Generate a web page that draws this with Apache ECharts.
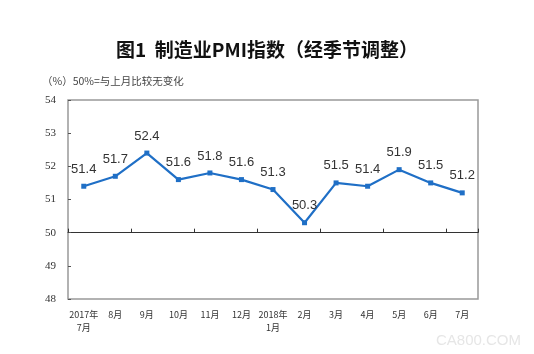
<!DOCTYPE html>
<html>
<head>
<meta charset="utf-8">
<script src="https://cdn.jsdelivr.net/npm/echarts@6/dist/echarts.min.js"></script>
<style>
  html, body { margin: 0; padding: 0; background: #fff; }
  #pmiChart { width: 534px; height: 354px; }
</style>
</head>
<body>
<div id="pmiChart"></div>
<script>
// 月份（x轴）
const months = ['2017年\n7月', '8月', '9月', '10月', '11月', '12月', '2018年\n1月', '2月', '3月', '4月', '5月', '6月', '7月'];
// 制造业PMI（经季节调整）
const pmiValues = [51.4, 51.7, 52.4, 51.6, 51.8, 51.6, 51.3, 50.3, 51.5, 51.4, 51.9, 51.5, 51.2];
// y轴刻度
const yTicks = [48, 49, 50, 51, 52, 53, 54];

const chart = echarts.init(document.getElementById('pmiChart'));

// 50 分界线离底部的距离：(50 - 48) 个单位
const plotHeight = 199;
const lineOffset = -plotHeight * (50 - yTicks[0]) / (yTicks[yTicks.length - 1] - yTicks[0]);

const option = {
  backgroundColor: '#fff',
  animation: false,
  title: {
    text: '图1  制造业PMI指数（经季节调整）',
    left: 'center',
    top: 35,
    textStyle: {
      fontFamily: 'Noto Sans CJK SC',
      fontSize: 19,
      fontWeight: 'bold',
      color: '#111',
    },
  },
  graphic: [
    {
      type: 'text',
      left: 42,
      top: 76,
      style: {
        text: '（%）50%=与上月比较无变化',
        fontFamily: 'Noto Sans CJK SC',
        fontSize: 10.5,
        fill: '#444',
      },
    },
    {
      type: 'text',
      left: 436,
      top: 333,
      style: {
        text: 'CA800.COM',
        fontFamily: 'Arial, Liberation Sans',
        fontSize: 15,
        fill: '#e6e6e6',
      },
    },
  ],
  grid: {
    left: 68,
    right: 56,
    top: 100,
    bottom: 55,
    show: true,
    borderColor: '#999',
    borderWidth: 1.5,
  },
  xAxis: [
    {
      type: 'category',
      data: months,
      boundaryGap: true,
      axisLine: { show: false },
      axisTick: { show: false },
      axisLabel: {
        margin: 9,
        fontFamily: 'Noto Sans CJK SC',
        fontSize: 9,
        lineHeight: 13,
        color: '#333',
        interval: 0,
      },
    },
    {
      type: 'category',
      data: months,
      position: 'bottom',
      offset: lineOffset,
      boundaryGap: true,
      axisLine: { show: true, lineStyle: { color: '#333', width: 1 } },
      axisTick: { show: true, inside: true, length: 4, lineStyle: { color: '#333' } },
      axisLabel: { show: false },
    },
  ],
  yAxis: {
    type: 'value',
    min: yTicks[0],
    max: yTicks[yTicks.length - 1],
    interval: 1,
    axisLine: { show: false },
    axisTick: { show: true, inside: true, length: 3, lineStyle: { color: '#555' } },
    splitLine: { show: false },
    axisLabel: {
      margin: 12,
      fontFamily: 'Liberation Serif',
      fontSize: 11,
      color: '#333',
    },
  },
  series: [
    {
      name: 'PMI',
      type: 'line',
      xAxisIndex: 0,
      data: pmiValues,
      symbol: 'rect',
      symbolSize: 5,
      itemStyle: { color: '#1f6fc6' },
      lineStyle: { color: '#1f6fc6', width: 2.2 },
      label: {
        show: true,
        position: 'top',
        distance: 8,
        fontFamily: 'Liberation Sans',
        fontSize: 13,
        color: '#333',
      },
    },
  ],
};

chart.setOption(option);
</script>
</body>
</html>
